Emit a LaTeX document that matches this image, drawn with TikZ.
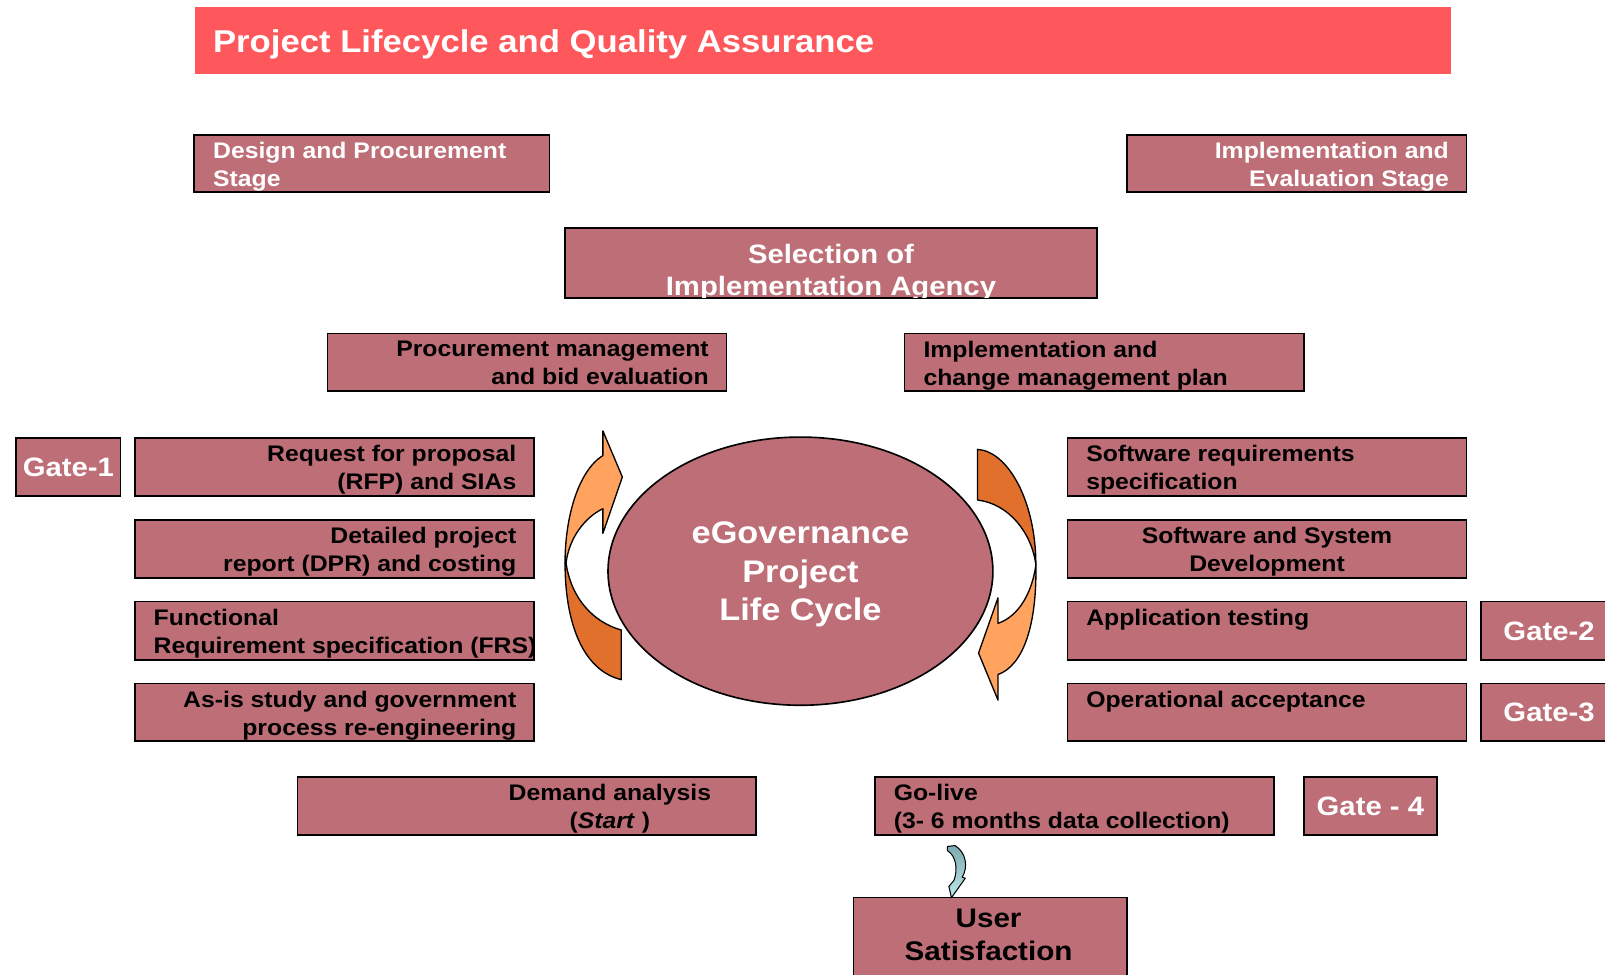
\documentclass[tikz,border=0pt]{standalone}
\usepackage{fontspec}
\setmainfont[FakeStretch=1.1]{Liberation Sans}
\usepackage{xcolor}
\usepackage{tikz}
\usetikzlibrary{shapes.geometric}
\definecolor{boxrose}{RGB}{190,110,118}
\definecolor{titlered}{RGB}{255,88,92}
\definecolor{orglight}{RGB}{255,163,95}
\definecolor{orgdark}{RGB}{224,112,44}
\definecolor{cyanlight}{RGB}{190,230,235}
\definecolor{cyandark}{RGB}{125,170,176}

\begin{document}
\begin{tikzpicture}[x=1pt,y=-1pt,
    stage/.style={draw=black,line width=1.6pt,fill=boxrose,inner sep=0pt,anchor=north west},
    txt/.style={inner sep=0pt,font=\fontsize{22}{27}\selectfont\bfseries},
    gate/.style={stage,text=white,font=\fontsize{26}{30}\selectfont\bfseries},
    turnarrow/.style={draw=black,line width=1.3pt,line join=round}]
    \useasboundingbox (0,0) rectangle (1568,952);
    %画布大小(1568x952),y轴向下

    \node[fill=titlered,inner sep=0pt,anchor=north west,minimum width=1227pt,minimum height=65pt] (title) at (190,7) {};
    \node[txt,text=white,font=\fontsize{30.8}{36}\selectfont\bfseries,anchor=base west] (title-t) at ([xshift=18pt,yshift=-11.5pt]title.west) {Project Lifecycle and Quality Assurance};
    %标题栏(title),红色底,白字

    \node[stage,minimum width=347pt,minimum height=56pt] (design) at (189,131) {};
    \node[txt,text=white,anchor=north west,align=left] (design-t) at ([xshift=19pt,yshift=-8pt]design.north west) {Design and Procurement\\Stage};
    \node[stage,minimum width=332pt,minimum height=56pt] (impleval) at (1100,131) {};
    \node[txt,text=white,anchor=north east,align=right] (impleval-t) at ([xshift=-18pt,yshift=-8pt]impleval.north east) {Implementation and\\Evaluation Stage};
    %左右两个阶段(stage)框

    \node[stage,minimum width=520pt,minimum height=68pt] (select) at (551,222) {};
    \node[txt,text=white,font=\fontsize{26}{32}\selectfont\bfseries,anchor=north,align=center] (select-t) at ([yshift=-16pt]select.north) {Selection of\\Implementation Agency};
    \draw[line width=1.6pt] (select.south west) -- (select.south east);
    %第二行文字被框底边截断,重画底边

    \node[stage,minimum width=390pt,minimum height=56pt] (procure) at (319,325) {};
    \node[txt,anchor=north east,align=right] (procure-t) at ([xshift=-18pt,yshift=-8pt]procure.north east) {Procurement management\\and bid evaluation};
    \node[stage,minimum width=390pt,minimum height=56pt] (implchange) at (883,325) {};
    \node[txt,anchor=north west,align=left] (implchange-t) at ([xshift=19pt,yshift=-8pt]implchange.north west) {Implementation and\\change management plan};

    %左列:Gate-1 和四个步骤框
    \node[gate,minimum width=102pt,minimum height=57pt] (gate1) at (15,427) {Gate-1};
    \node[stage,minimum width=390pt,minimum height=57pt] (rfp) at (131,427) {};
    \node[txt,anchor=north east,align=right] (rfp-t) at ([xshift=-18pt,yshift=-8pt]rfp.north east) {Request for proposal\\(RFP) and SIAs};
    \node[stage,minimum width=390pt,minimum height=57pt] (dpr) at (131,507) {};
    \node[txt,anchor=north east,align=right] (dpr-t) at ([xshift=-18pt,yshift=-8pt]dpr.north east) {Detailed project\\report (DPR) and costing};
    \node[stage,minimum width=390pt,minimum height=57pt] (frs) at (131,587) {};
    \node[txt,anchor=north west,align=left] (frs-t) at ([xshift=19pt,yshift=-8pt]frs.north west) {Functional\\Requirement specification (FRS)};
    \node[stage,minimum width=390pt,minimum height=56pt] (asis) at (131,667) {};
    \node[txt,anchor=north east,align=right] (asis-t) at ([xshift=-18pt,yshift=-8pt]asis.north east) {As-is study and government\\process re-engineering};
    \node[stage,minimum width=448pt,minimum height=57pt] (demand) at (290,758) {};
    \node[txt,anchor=north,align=center] (demand-t) at ([xshift=81pt,yshift=-8pt]demand.north) {Demand analysis\\(\textit{Start} )};

    %右列:四个步骤框和 Gate-2, Gate-3
    \node[stage,minimum width=390pt,minimum height=57pt] (srs) at (1042,427) {};
    \node[txt,anchor=north west,align=left] (srs-t) at ([xshift=19pt,yshift=-8pt]srs.north west) {Software requirements\\specification};
    \node[stage,minimum width=390pt,minimum height=57pt] (swdev) at (1042,507) {};
    \node[txt,anchor=north,align=center] (swdev-t) at ([yshift=-8pt]swdev.north) {Software and System\\Development};
    \node[stage,minimum width=390pt,minimum height=57pt] (apptest) at (1042,587) {};
    \node[txt,anchor=north west] (apptest-t) at ([xshift=19pt,yshift=-8pt]apptest.north west) {Application testing};
    \node[stage,minimum width=390pt,minimum height=56pt] (opacc) at (1042,667) {};
    \node[txt,anchor=north west] (opacc-t) at ([xshift=19pt,yshift=-8pt]opacc.north west) {Operational acceptance};
    \node[gate,minimum width=133pt,minimum height=57pt] (gate2) at (1446,587) {Gate-2};
    \node[gate,minimum width=133pt,minimum height=56pt] (gate3) at (1446,667) {Gate-3};
    \node[stage,minimum width=390pt,minimum height=57pt] (golive) at (854,758) {};
    \node[txt,anchor=north west,align=left] (golive-t) at ([xshift=19pt,yshift=-8pt]golive.north west) {Go-live\\(3- 6 months data collection)};
    \node[gate,minimum width=130pt,minimum height=57pt] (gate4) at (1273,758) {Gate - 4};

    \node[stage,minimum width=267pt,minimum height=100pt] (user) at (833,876) {};
    \node[txt,font=\fontsize{26.3}{32}\selectfont\bfseries,anchor=north,align=center] (user-t) at ([xshift=-1.5pt,yshift=-12pt]user.north) {User\\Satisfaction};
    %底部用户满意度(user)框,下边超出画布

    \node[ellipse,draw=black,line width=1.6pt,fill=boxrose,inner sep=0pt,minimum width=376pt,minimum height=262pt,
        text=white,font=\fontsize{30.5}{37.5}\selectfont\bfseries,align=center,text depth=-3.5pt] (cycle) at (782,558) {eGovernance\\Project\\Life Cycle};
    %中间椭圆(cycle)

    \filldraw[turnarrow,fill=orglight] (552,550) .. controls (552,505) and (565,460) .. (589,445) -- (589,421) -- (608,466)
        -- (589,521) -- (589,497) .. controls (572,505) and (556,525) .. (553,550) -- cycle;
    \filldraw[turnarrow,fill=orgdark] (552,550) .. controls (552,610) and (570,655) .. (607,664) -- (607,615.5)
        .. controls (580,608) and (558,585) .. (553,550) -- cycle;
    %左侧弯箭头,上浅下深
    \filldraw[turnarrow,fill=orgdark] (955,439) .. controls (985,441) and (1012,490) .. (1012,552)
        .. controls (1008,520) and (985,492) .. (955,488.5) -- cycle;
    \filldraw[turnarrow,fill=orglight] (1012,552) .. controls (1008,580) and (995,602) .. (975,609) -- (975,584) -- (956,638)
        -- (975,684) -- (975,659) .. controls (1000,650) and (1013,610) .. (1012,552) -- cycle;
    %右侧弯箭头,上深下浅
    \draw[line width=1pt,line join=round,top color=cyandark,bottom color=cyanlight] (925.5,827) -- (933,826)
        .. controls (944,833) and (946,847) .. (940,857) -- (943,858) -- (929.5,877) -- (927,866) -- (932,860)
        .. controls (936,849) and (934,836) .. (925.5,831) -- cycle;
    %Go-live 到 User Satisfaction 的小箭头
\end{tikzpicture}
\end{document}
